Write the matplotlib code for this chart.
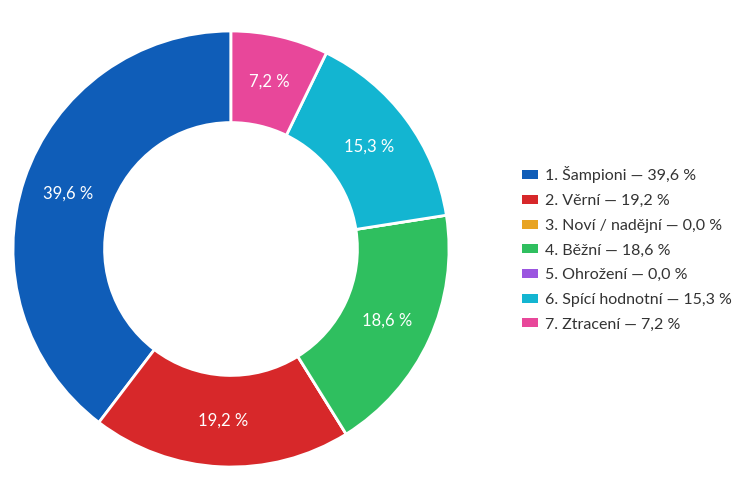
import matplotlib
matplotlib.use("Agg")
import matplotlib.pyplot as plt
from matplotlib.patches import Patch

plt.rcParams['font.family'] = ['Lato', 'DejaVu Sans']

categories = ["1. Šampioni", "2. Věrní", "3. Noví / nadějní", "4. Běžní",
              "5. Ohrožení", "6. Spící hodnotní", "7. Ztracení"]
values = [39.6, 19.2, 0.0, 18.6, 0.0, 15.3, 7.2]
colors = ["#0F5DB8", "#D7282A", "#E8A424", "#2FBF5F", "#9B55E0", "#13B5D1", "#E8479A"]

def fmt(v):
    return f"{v:.1f}".replace(".", ",") + " %"

fig = plt.figure(figsize=(7.5, 5.01), dpi=100)
cx, cy, R = 231, 249, 218
W, H = 750, 501
ax = fig.add_axes([(cx - R) / W, (H - cy - R) / H, 2 * R / W, 2 * R / H])

wedges, texts, autotexts = ax.pie(
    values, colors=colors, startangle=90, counterclock=True, radius=1.0,
    autopct=lambda p: fmt(p) if p > 0.05 else "",
    pctdistance=0.79,
    wedgeprops=dict(width=0.42, edgecolor="white", linewidth=2),
    textprops=dict(color="white", fontsize=12),
)
ax.set_xlim(-1, 1)
ax.set_ylim(-1, 1)
ax.set_aspect("equal")

handles = [Patch(facecolor=c, edgecolor="none") for c in colors]
labels = [f"{c} — {fmt(v)}" for c, v in zip(categories, values)]
fig.legend(handles, labels, loc="center left", bbox_to_anchor=(522 / W, 1 - 249 / H),
           frameon=False, fontsize=11.5, handlelength=1.0, handleheight=0.5,
           handletextpad=0.45, labelspacing=0.67, borderpad=0, borderaxespad=0,
           labelcolor="#333333")

fig.savefig("out.png", dpi=100, facecolor="white")
